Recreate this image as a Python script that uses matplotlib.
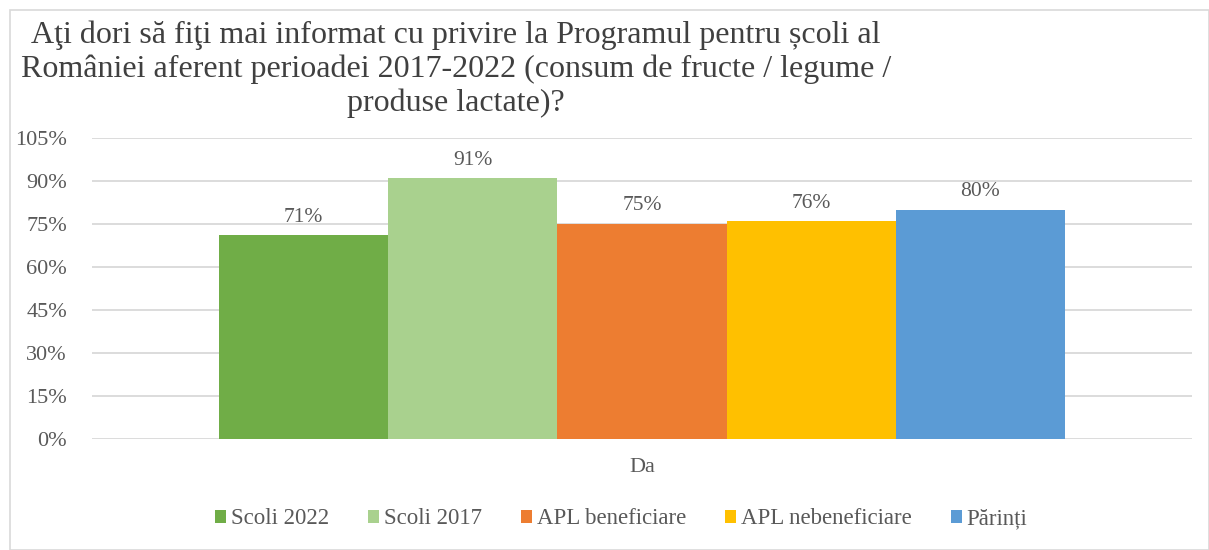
import matplotlib.pyplot as plt
from matplotlib.patches import Rectangle
from matplotlib.ticker import FuncFormatter

plt.rcParams['font.family'] = ['Liberation Serif', 'DejaVu Serif']

# data
categories = ['Da']
series = ['Scoli 2022', 'Scoli 2017', 'APL beneficiare', 'APL nebeneficiare', 'Părinți']
values = [71, 91, 75, 76, 80]
colors = ['#70AD47', '#A9D18E', '#ED7D31', '#FFC000', '#5B9BD5']
yticks = [0, 15, 30, 45, 60, 75, 90, 105]

title = ('Aţi dori să fiţi mai informat cu privire la Programul pentru școli al\n'
         'României aferent perioadei 2017-2022 (consum de fructe / legume /\n'
         'produse lactate)?')

text_color = '#595959'

fig = plt.figure(figsize=(12.09, 5.5), dpi=100)
ax = fig.add_axes([92 / 1209, 1 - 439 / 550, 1100 / 1209, 301 / 550])

n = len(series)
width = 0.769 / n
for i, (name, v, c) in enumerate(zip(series, values, colors)):
    x = (i - (n - 1) / 2) * width
    ax.bar(x, v, width=width, color=c, label=name, zorder=2)
    ax.text(x, v + 3, f'{v}%', ha='center', va='bottom',
            fontsize=15.5, color=text_color)

ax.set_xlim(-0.5, 0.5)
ax.set_ylim(0, 105)
ax.set_yticks(yticks)
ax.yaxis.set_major_formatter(FuncFormatter(lambda v, p: f'{v:.0f}%'))
ax.set_xticks([0])
ax.set_xticklabels(categories)
ax.tick_params(axis='both', length=0, labelsize=16, labelcolor=text_color)
ax.tick_params(axis='y', pad=18)
ax.tick_params(axis='x', pad=14)
ax.grid(axis='y', color='#D9D9D9', linewidth=1.3, zorder=0)
for s in ax.spines.values():
    s.set_visible(False)

fig.text(456 / 1209, 1 - 20 / 550, title, ha='center', va='top',
         fontsize=23, color='#404040', linespacing=1.2)

handles, labels = ax.get_legend_handles_labels()
fig.legend(handles, labels, loc='center', bbox_to_anchor=(621 / 1209, 1 - 519 / 550),
           ncol=n, frameon=False, fontsize=16.5, handlelength=0.5, handleheight=0.5,
           handletextpad=0.2, columnspacing=1.7, labelcolor=text_color)

fig.patches.append(Rectangle((10 / 1209, 0), 1 - 10 / 1209, 1 - 10 / 550,
                             transform=fig.transFigure, fill=False,
                             edgecolor='#D9D9D9', linewidth=1.2))

fig.savefig('out.png', dpi=100)
